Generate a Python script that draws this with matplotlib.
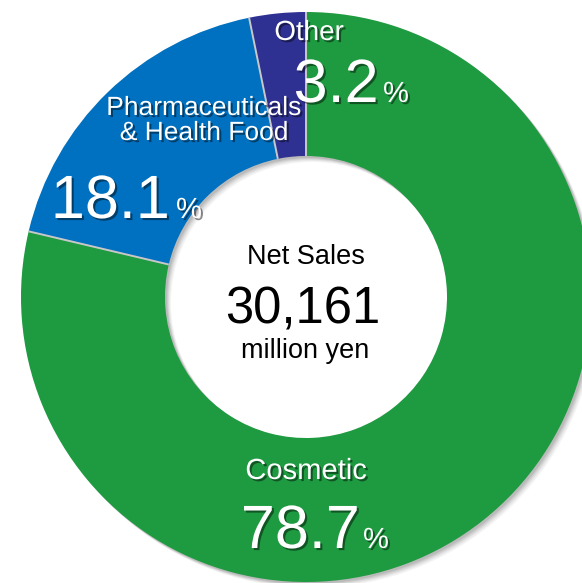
import numpy as np
import matplotlib
matplotlib.use('Agg')
import matplotlib.pyplot as plt
import matplotlib.patheffects as pe
from matplotlib.patches import Wedge

plt.rcParams['font.family'] = ['Liberation Sans', 'DejaVu Sans']

# net sales breakdown by segment (%)
segments = ['Cosmetic', 'Pharmaceuticals\n& Health Food', 'Other']
shares = [78.7, 18.1, 3.2]
colors = ['#1E9A40', '#0070C0', '#2E3192']
total_sales = '30,161'

W, H = 582, 583
fig = plt.figure(figsize=(W / 100, H / 100), dpi=100)
ax = fig.add_axes([0, 0, 1, 1])

cx, cy = 306, H - 297
R_out, R_in = 285, 141

# soft drop shadow under the ring
for off, a in [(6, 0.05), (5, 0.06), (4, 0.08), (3, 0.10), (2, 0.12)]:
    ax.add_patch(Wedge((cx + off, cy - off), R_out, 0, 360, width=R_out - R_in,
                       facecolor='#404040', edgecolor='none', alpha=a, zorder=0))

ax.pie(shares, colors=colors, radius=R_out, center=(cx, cy), startangle=90,
       counterclock=False,
       wedgeprops=dict(width=R_out - R_in, edgecolor='none', linewidth=0))

# thin light separators between segments
bounds = 90 - np.cumsum([0] + shares[:-1]) * 3.6
for a in np.radians(bounds):
    ax.plot([cx + R_in * np.cos(a), cx + R_out * np.cos(a)],
            [cy + R_in * np.sin(a), cy + R_out * np.sin(a)],
            color='#C8C8C8', lw=1.4, solid_capstyle='butt', zorder=3)

ax.set_xlim(0, W)
ax.set_ylim(0, H)
ax.set_aspect('equal')
ax.axis('off')

shadow = [pe.withSimplePatchShadow(offset=(1.5, -1.5), shadow_rgbFace='black', alpha=0.45)]


def label(x, y, s, size, color='white', ha='center', fx=None):
    ax.text(x, H - y, s, fontsize=size, color=color, ha=ha, va='baseline',
            path_effects=fx, zorder=5)


# segment labels (pixel positions, y measured from top)
label(309, 40, 'Other', 20, fx=shadow)
label(379, 102, '3.2', 44, ha='right', fx=shadow)
label(383, 102, '%', 21, ha='left', fx=shadow)

label(204, 115, 'Pharmaceuticals', 19, fx=shadow)
label(204, 140, '& Health Food', 19, fx=shadow)
label(170, 218, '18.1', 44, ha='right', fx=shadow)
label(176, 218, '%', 21, ha='left', fx=shadow)

label(306, 479, segments[0], 21, fx=shadow)
label(360, 548, '78.7', 44, ha='right', fx=shadow)
label(363, 548, '%', 21, ha='left', fx=shadow)

# centre total
label(306, 264, 'Net Sales', 19.5, color='black')
label(303, 323, total_sales, 36.5, color='black')
label(305, 358, 'million yen', 19.5, color='black')

fig.savefig('out.png', dpi=100)
